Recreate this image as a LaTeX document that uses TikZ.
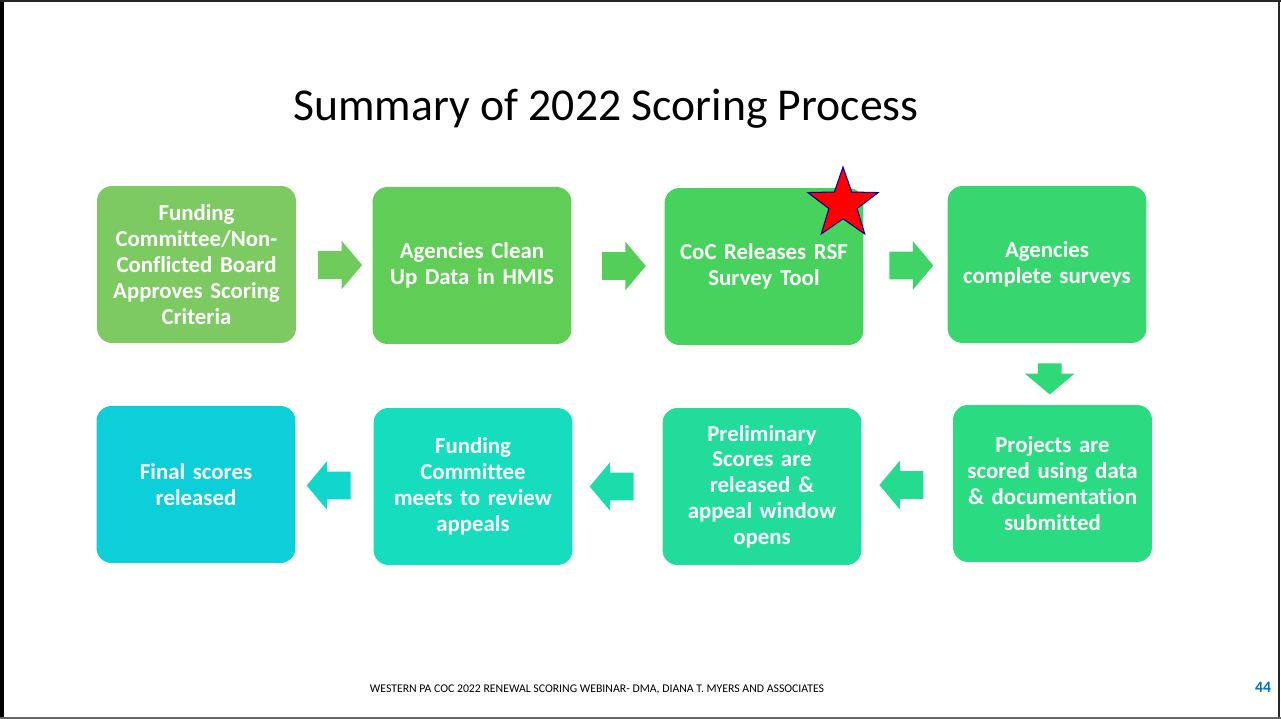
\documentclass[tikz,border=0pt]{standalone}
\usepackage{fontspec}
\setmainfont{Carlito}[Ligatures=NoCommon]
\usetikzlibrary{positioning,calc,shapes.geometric,shapes.arrows}

\definecolor{stepA}{RGB}{125,201,98}
\definecolor{stepB}{RGB}{95,205,86}
\definecolor{stepC}{RGB}{70,210,92}
\definecolor{stepD}{RGB}{55,214,110}
\definecolor{stepE}{RGB}{42,219,130}
\definecolor{stepF}{RGB}{33,220,155}
\definecolor{stepG}{RGB}{22,221,190}
\definecolor{stepH}{RGB}{13,207,217}
\definecolor{pageblue}{RGB}{0,112,192}

\tikzset{
  stepbox/.style={rectangle, rounded corners=0.3cm, minimum width=3.98cm, minimum height=3.14cm,
    text width=3.9cm, align=center, text=white, inner sep=0,
    font=\fontsize{13}{14.7}\selectfont\bfseries},
  flowarrow/.style={single arrow, draw=none, inner xsep=0, inner ysep=0.27cm, minimum height=0.88cm,
    single arrow head extend=0.21cm, single arrow tip angle=100},
}

\begin{document}
\begin{tikzpicture}[x=0.02cm,y=-0.02cm]
    \useasboundingbox (0,0) rectangle (1281,719);
    % page frame
    \draw[line width=0.08cm] (2,0) -- (2,719);
    \draw[line width=0.04cm,black!85] (0,1) -- (1281,1);
    \draw[line width=0.04cm,black!85] (1279,0) -- (1279,719);
    \draw[line width=0.04cm,black!60] (0,717.5) -- (1281,717.5);
    % title
    \node[anchor=base,font=\fontsize{26}{30}\selectfont] (title) at (606,121) {Summary of 2022 Scoring Process};
    % top row
    \node[stepbox,fill=stepA] (fundingbox) at (196.5,264.5) {Funding\\Committee/Non-\\Conflicted Board\\Approves Scoring\\Criteria};
    \node[stepbox,fill=stepB] (cleanupbox) at (472,265.5) {Agencies Clean\\Up Data in HMIS};
    \node[stepbox,fill=stepC] (releasebox) at (764,266.5) {CoC Releases RSF\\Survey Tool};
    \node[stepbox,fill=stepD] (surveybox) at (1047,264.5) {Agencies\\complete surveys};
    % bottom row
    \node[stepbox,fill=stepE] (scoredbox) at (1052.5,483.5) {Projects are\\scored using data\\\& documentation\\submitted};
    \node[stepbox,fill=stepF] (prelimbox) at (762,486.5) {Preliminary\\Scores are\\released \&\\appeal window\\opens};
    \node[stepbox,fill=stepG] (reviewbox) at (473,486.5) {Funding\\Committee\\meets to review\\appeals};
    \node[stepbox,fill=stepH] (finalbox) at (196,484.5) {Final scores\\released};
    % arrows between steps
    \node[flowarrow,fill=stepA!50!stepB] (arrowAB) at ($(fundingbox.east)!0.5!(cleanupbox.west)$) {};
    \node[flowarrow,fill=stepB!50!stepC] (arrowBC) at ($(cleanupbox.east)!0.5!(releasebox.west)$) {};
    \node[flowarrow,fill=stepC!50!stepD] (arrowCD) at ($(releasebox.east)!0.5!(surveybox.west)$) {};
    \node[flowarrow,fill=stepD!50!stepE,shape border rotate=270,minimum height=0.62cm,
      inner xsep=0.23cm,inner ysep=0,single arrow head extend=0.26cm] (arrowDE) at ($(surveybox.south)!0.5!(scoredbox.north)$) {};
    \node[flowarrow,fill=stepE!50!stepF,shape border rotate=180] (arrowEF) at ($(scoredbox.west)!0.5!(prelimbox.east)$) {};
    \node[flowarrow,fill=stepF!50!stepG,shape border rotate=180] (arrowFG) at ($(prelimbox.west)!0.5!(reviewbox.east)$) {};
    \node[flowarrow,fill=stepG!50!stepH,shape border rotate=180] (arrowGH) at ($(reviewbox.west)!0.5!(finalbox.east)$) {};
    % star on the survey tool step
    \node[star,star points=5,star point ratio=2.5,fill=red,draw=blue!60!black,line width=0.6pt,
      minimum size=1.48cm,inner sep=0] (toolstar) at (843,204) {};
    % footer
    \node[anchor=base,font=\fontsize{6.7}{8}\selectfont] (footer) at (597,692)
      {WESTERN PA COC 2022 RENEWAL SCORING WEBINAR- DMA, DIANA T. MYERS AND ASSOCIATES};
    \node[anchor=base,font=\fontsize{9}{10}\selectfont\bfseries,text=pageblue] (pagenum) at (1263,692) {44};
\end{tikzpicture}
\end{document}
